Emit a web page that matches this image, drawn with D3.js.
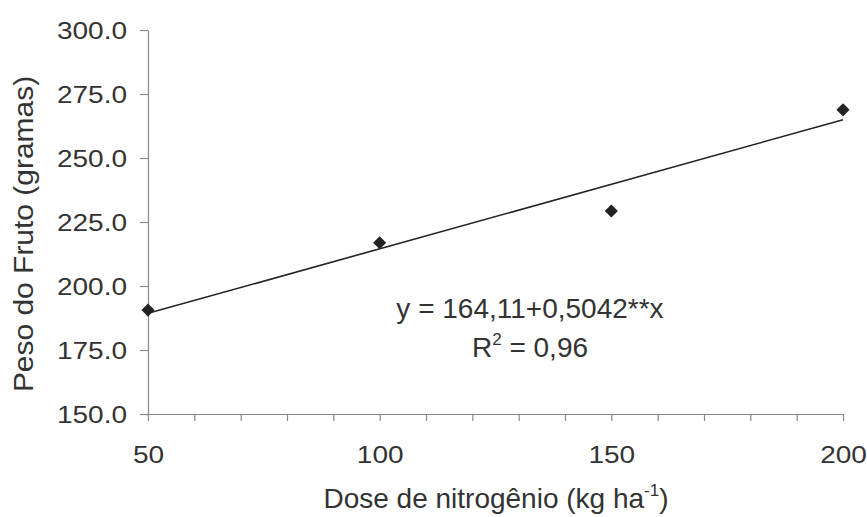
<!DOCTYPE html>
<html>
<head>
<meta charset="utf-8">
<script src="https://cdn.jsdelivr.net/npm/d3@7"></script>
<style>
    body { margin: 0; background: #fff; }
    text { font-family: "Liberation Sans", Arial, sans-serif; fill: #333; }
</style>
</head>
<body>
<script>
'use strict';
// values
const doses = [50, 100, 150, 200];
const weights = [190.6, 216.9, 229.3, 268.8];
const fitIntercept = 164.11;
const fitSlope = 0.5042;
const yTicks = [150, 175, 200, 225, 250, 275, 300];
const xMajor = [50, 100, 150, 200];
const xMinor = d3.range(50, 201, 10);

(function() {
    let scales = {
        width: 867,
        height: 517,
        left: 148,
        right: 843,
        top: 30,
        bottom: 414
    }
    let squash = 0.84;

    let svg = d3.select('body')
                .append('svg')
                .attr('width', scales.width)
                .attr('height', scales.height)

    let x = d3.scaleLinear()
              .domain([50, 200])
              .range([scales.left, scales.right])
    let y = d3.scaleLinear()
              .domain([150, 300])
              .range([scales.bottom, scales.top])

    // y axis
    let yAxis = svg.append('g')
                   .attr('transform', 'translate(' + scales.left + ',0)')
                   .call(d3.axisLeft(y).tickValues(yTicks).tickSize(8).tickSizeOuter(0).tickFormat(d3.format('.1f')))
    yAxis.select('.domain').attr('stroke', '#888').attr('stroke-width', 1.2)
    yAxis.selectAll('.tick line').attr('stroke', '#888').attr('stroke-width', 1.2)
    yAxis.selectAll('.tick text')
         .attr('x', -21)
         .attr('y', 0)
         .attr('dy', null)
         .attr('transform', 'translate(0,8.3) scale(1,' + squash + ')')
         .style('font-size', '28px')
         .attr('fill', '#333')

    // x axis, minor ticks every 10
    let xAxis = svg.append('g')
                   .attr('transform', 'translate(0,' + scales.bottom + ')')
                   .call(d3.axisBottom(x).tickValues(xMinor).tickSize(7).tickSizeOuter(0)
                        .tickFormat((d) => xMajor.includes(d) ? d : ''))
    xAxis.select('.domain').attr('stroke', '#888').attr('stroke-width', 1.2)
    xAxis.selectAll('.tick line').attr('stroke', '#888').attr('stroke-width', 1.2)
    xAxis.selectAll('.tick text')
         .attr('y', 0)
         .attr('dy', null)
         .attr('transform', 'translate(0,49) scale(1,' + squash + ')')
         .style('font-size', '28px')
         .attr('fill', '#333')

    // fitted line
    svg.append('line')
       .attr('x1', x(50))
       .attr('y1', y(fitIntercept + fitSlope * 50))
       .attr('x2', x(200))
       .attr('y2', y(fitIntercept + fitSlope * 200))
       .attr('stroke', '#222')
       .attr('stroke-width', 1.6)

    // diamond markers
    svg.selectAll('.dot')
       .data(doses)
       .enter()
       .append('path')
       .attr('d', d3.symbol().type(d3.symbolDiamond2).size(110))
       .attr('transform', (d, i) => 'translate(' + x(d) + ',' + y(weights[i]) + ')')
       .attr('fill', '#222')

    // equation
    svg.append('text')
       .attr('x', 530)
       .attr('y', 318)
       .attr('text-anchor', 'middle')
       .style('font-size', '28px')
       .text('y = 164,11+0,5042**x')
    let r2 = svg.append('text')
                .attr('x', 530)
                .attr('y', 357)
                .attr('text-anchor', 'middle')
                .style('font-size', '28px')
    r2.append('tspan').text('R')
    r2.append('tspan').attr('dy', -12).style('font-size', '17px').text('2')
    r2.append('tspan').attr('dy', 12).text(' = 0,96')

    // axis titles
    let xt = svg.append('text')
                .attr('x', 496)
                .attr('y', 508)
                .attr('text-anchor', 'middle')
                .style('font-size', '28px')
    xt.append('tspan').text('Dose de nitrogênio (kg ha')
    xt.append('tspan').attr('dy', -12).style('font-size', '17px').text('-1')
    xt.append('tspan').attr('dy', 12).text(')')

    svg.append('text')
       .attr('transform', 'translate(33,234) scale(1,1.07) rotate(-90)')
       .attr('text-anchor', 'middle')
       .style('font-size', '28px')
       .text('Peso do Fruto (gramas)')
})();
</script>
</body>
</html>
